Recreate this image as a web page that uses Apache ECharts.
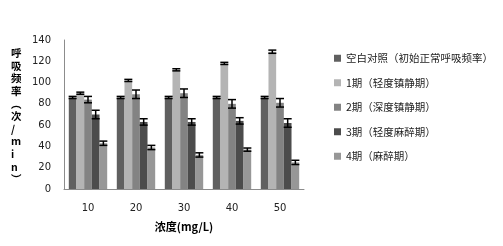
<!DOCTYPE html>
<html>
<head>
<meta charset="utf-8">
<script src="https://cdn.jsdelivr.net/npm/echarts@6/dist/echarts.min.js"></script>
<style>
  html, body { margin: 0; padding: 0; background: #fff; }
</style>
</head>
<body>
<div id="main" style="width: 503px; height: 246px"></div>
<script>
// 浓度
var categories = ["10", "20", "30", "40", "50"];
var seriesNames = [
  "空白对照（初始正常呼吸频率）",
  "1期（轻度镇静期）",
  "2期（深度镇静期）",
  "3期（轻度麻醉期）",
  "4期（麻醉期）"
];
var blankVals = [86, 86, 86, 86, 86];
var stage1Vals = [90, 102, 112, 118, 129];
var stage2Vals = [84, 89, 90, 80, 81];
var stage3Vals = [70, 63, 63, 64, 62];
var stage4Vals = [43, 39, 32, 37, 25];
var blankErr = [1, 1, 1, 1, 1];
var stage1Err = [1, 1, 1, 1, 1.5];
var stage2Err = [3, 4, 4, 4, 4];
var stage3Err = [4, 3, 3, 3, 4];
var stage4Err = [2, 2, 2, 1.5, 2];
var yTicks = [0, 20, 40, 60, 80, 100, 120, 140];

var colors = ["#606060", "#b4b4b4", "#838383", "#4c4c4c", "#979797"];
var allVals = [blankVals, stage1Vals, stage2Vals, stage3Vals, stage4Vals];
var allErr = [blankErr, stage1Err, stage2Err, stage3Err, stage4Err];

var myChart = echarts.init(document.getElementById("main"));

var series = [];
allVals.forEach(function (vals, i) {
  series.push({
    name: seriesNames[i],
    type: "bar",
    data: vals,
    barGap: 0,
    barCategoryGap: "20%",
    itemStyle: { color: colors[i] },
    z: 2
  });
});

// 误差线
allVals.forEach(function (vals, i) {
  var errData = vals.map(function (v, j) {
    return [j, v - allErr[i][j], v + allErr[i][j]];
  });
  series.push({
    type: "custom",
    data: errData,
    z: 5,
    encode: { x: 0, y: [1, 2] },
    renderItem: function (params, api) {
      var band = api.size([1, 0])[0];
      var groupW = band * 0.8;
      var barW = groupW / 5;
      var off = -groupW / 2 + barW * (i + 0.5);
      var lo = api.coord([api.value(0), api.value(1)]);
      var hi = api.coord([api.value(0), api.value(2)]);
      var x = lo[0] + off;
      var cap = 4;
      var style = { stroke: "#000", lineWidth: 1.5 };
      return {
        type: "group",
        children: [
          { type: "line", shape: { x1: x, y1: lo[1], x2: x, y2: hi[1] }, style: style },
          { type: "line", shape: { x1: x - cap, y1: lo[1], x2: x + cap, y2: lo[1] }, style: style },
          { type: "line", shape: { x1: x - cap, y1: hi[1], x2: x + cap, y2: hi[1] }, style: style }
        ]
      };
    }
  });
});

var option = {
  animation: false,
  backgroundColor: "#fff",
  grid: { left: 64, top: 40, right: 199, bottom: 57, containLabel: false },
  legend: {
    data: seriesNames,
    orient: "vertical",
    left: 329,
    top: 48,
    itemWidth: 7,
    itemHeight: 7,
    itemGap: 14,
    icon: "rect",
    textStyle: {
      fontSize: 10.5,
      color: "#222",
      fontFamily: "Noto Sans CJK SC"
    }
  },
  xAxis: {
    type: "category",
    data: categories,
    name: "浓度(mg/L)",
    nameLocation: "middle",
    nameGap: 32,
    nameTextStyle: {
      fontSize: 11,
      fontWeight: "bold",
      color: "#000",
      fontFamily: "Noto Sans CJK SC"
    },
    axisTick: { show: false },
    axisLine: { lineStyle: { color: "#8c8c8c", width: 1 } },
    axisLabel: { margin: 14, fontSize: 10, color: "#222", fontFamily: "DejaVu Sans" }
  },
  yAxis: {
    type: "value",
    min: 0,
    max: 140,
    interval: 20,
    axisTick: { show: false },
    splitLine: { show: false },
    axisLine: { show: true, lineStyle: { color: "#8c8c8c", width: 1 } },
    axisLabel: { margin: 13, fontSize: 10, color: "#222", fontFamily: "DejaVu Sans" }
  },
  graphic: [
    {
      type: "text",
      left: 11,
      top: 47,
      style: {
        text: "呼\n吸\n频\n率\n︵\n次\n/\nm\ni\nn\n︶",
        fontSize: 10.5,
        fontWeight: "bold",
        lineHeight: 12.6,
        fill: "#000",
        align: "center",
        fontFamily: "Noto Sans CJK SC"
      }
    }
  ],
  series: series
};

myChart.setOption(option);
window.onresize = function () {
  myChart.resize();
};
</script>
</body>
</html>
